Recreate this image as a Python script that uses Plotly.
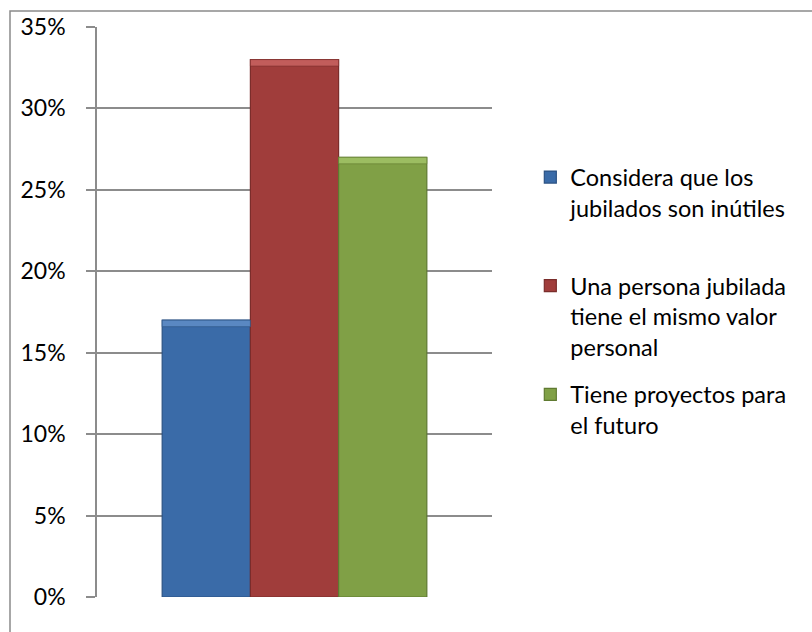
import plotly.graph_objects as go

# Survey answers (share of respondents)
series_names = [
    "Considera que los<br>jubilados son inútiles<br> ",
    "Una persona jubilada<br>tiene el mismo valor<br>personal",
    "Tiene proyectos para<br>el futuro",
]
series_values = [0.17, 0.33, 0.27]
category = [""]

fill_colors = ["#3A6BA8", "#A03D3B", "#80A046"]
edge_colors = ["#2B5283", "#7A2D2B", "#5F7A31"]
top_colors = ["#5A88C2", "#C25D5B", "#9CBD62"]

tick_values = [0, 0.05, 0.10, 0.15, 0.20, 0.25, 0.30, 0.35]
tick_labels = ["0%", "5%", "10%", "15%", "20%", "25%", "30%", "35%"]

fig = go.Figure()
for i, (name, val) in enumerate(zip(series_names, series_values)):
    fig.add_trace(go.Bar(
        x=category, y=[val], name=name,
        offsetgroup=str(i), legendgroup=str(i),
        marker=dict(color=fill_colors[i], line=dict(color=edge_colors[i], width=1.2)),
    ))
# lighter bevel band along the top of each bar
bevel = 0.004
for i, val in enumerate(series_values):
    fig.add_trace(go.Bar(
        x=category, y=[bevel], base=[val - bevel],
        offsetgroup=str(i), legendgroup=str(i), showlegend=False,
        marker=dict(color=top_colors[i], line=dict(color=edge_colors[i], width=0.6)),
        hoverinfo="skip",
    ))

grid = "#8C8C8C"
fig.update_layout(
    width=812, height=632,
    margin=dict(l=97, r=320, t=24, b=35),
    paper_bgcolor="white", plot_bgcolor="white",
    barmode="group", bargap=0.33, bargroupgap=0,
    font=dict(family="Lato, Carlito, sans-serif", color="#000000"),
    showlegend=True,
    legend=dict(
        x=1.097, xanchor="left", y=0.775, yanchor="top",
        font=dict(size=23.5, family="Lato, sans-serif"),
        valign="top", tracegroupgap=14, itemwidth=30,
        bgcolor="rgba(0,0,0,0)",
    ),
    xaxis=dict(showticklabels=False, showgrid=False, zeroline=False,
               showline=False, ticks=""),
    yaxis=dict(
        range=[0, 0.35], tickvals=tick_values, ticktext=tick_labels,
        tickfont=dict(size=23, family="Lato, sans-serif"),
        showgrid=True, gridcolor=grid, gridwidth=1.5,
        zeroline=False, showline=True, linecolor=grid, linewidth=1.5,
        ticks="outside", ticklen=9, tickcolor=grid, tickwidth=1.5,
        ticklabelstandoff=16,
    ),
    shapes=[
        # outer chart frame
        dict(type="rect", xref="paper", yref="paper",
             x0=(10 - 97) / 395, x1=1.9, y0=-0.2, y1=(597 - 8) / 573,
             line=dict(color="#8A8A8A", width=1.5), fillcolor="rgba(0,0,0,0)",
             layer="below"),
    ],
)

fig.write_html("out.html")
